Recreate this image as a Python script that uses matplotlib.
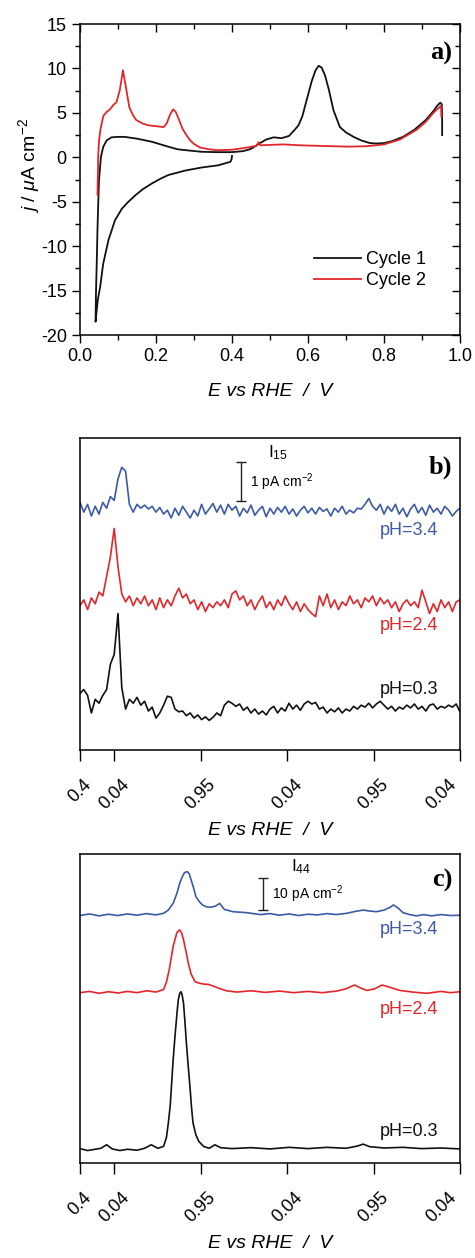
import numpy as np
import matplotlib
matplotlib.use("Agg")
import matplotlib.pyplot as plt
from matplotlib.ticker import MultipleLocator, FormatStrFormatter

plt.rcParams["font.family"] = ["Liberation Sans", "DejaVu Sans"]
plt.rcParams["mathtext.fontset"] = "custom"
plt.rcParams["mathtext.rm"] = "Liberation Sans"
plt.rcParams["mathtext.it"] = "Liberation Sans:italic"
plt.rcParams["axes.linewidth"] = 1.1
plt.rcParams["axes.unicode_minus"] = False

BLACK = "#111111"
RED = "#e3262b"
BLUE = "#3c5aa6"

# ---- a) cyclic voltammetry, potential (V) and current density (uA cm-2) ----
cyc1_E = [0.400, 0.399, 0.396, 0.364, 0.32, 0.276, 0.232, 0.21, 0.189, 0.165, 0.145,
          0.125, 0.11, 0.092, 0.075, 0.061, 0.053, 0.047, 0.044, 0.041,
          0.041, 0.042, 0.044, 0.046, 0.048, 0.050, 0.055, 0.061, 0.070, 0.083,
          0.10, 0.117, 0.15, 0.189, 0.232, 0.257, 0.29, 0.32, 0.36, 0.40, 0.43,
          0.45, 0.47, 0.49, 0.51, 0.53, 0.55, 0.565, 0.575, 0.585, 0.60, 0.61, 0.62,
          0.628, 0.636, 0.645, 0.655, 0.667, 0.684, 0.70, 0.72, 0.74, 0.763, 0.78,
          0.80, 0.82, 0.85, 0.88, 0.91, 0.93, 0.94, 0.948, 0.952, 0.953, 0.953]
cyc1_j = [0.15, -0.2, -0.5, -0.9, -1.15, -1.5, -2.0, -2.45, -2.95, -3.6, -4.3,
          -5.1, -5.8, -7.1, -9.3, -12.0, -14.6, -16.0, -17.2, -18.5,
          -18.5, -15.4, -12.0, -8.2, -5.2, -2.6, 0.0, 1.15, 1.9, 2.25,
          2.3, 2.3, 2.1, 1.75, 1.2, 0.9, 0.75, 0.62, 0.58, 0.58, 0.7,
          0.95, 1.5, 2.0, 2.25, 2.15, 2.4, 3.1, 3.6, 4.6, 7.0, 8.6, 9.8,
          10.3, 10.1, 9.2, 7.6, 5.3, 3.4, 2.8, 2.3, 1.9, 1.6, 1.55,
          1.6, 1.8, 2.3, 3.1, 4.2, 5.2, 5.8, 6.15, 6.0, 4.2, 2.5]

cyc2_E = [0.046, 0.047, 0.048, 0.050, 0.053, 0.058, 0.062, 0.070, 0.079, 0.088, 0.096,
          0.105, 0.113, 0.122, 0.130, 0.140, 0.148, 0.165, 0.18, 0.20, 0.22, 0.228,
          0.237, 0.245, 0.252, 0.258, 0.27, 0.28, 0.29, 0.30, 0.316, 0.34, 0.36,
          0.40, 0.44, 0.465, 0.47, 0.475, 0.50, 0.535, 0.58, 0.62, 0.66, 0.71,
          0.755, 0.80, 0.842, 0.886, 0.91, 0.93, 0.945, 0.95, 0.951]
cyc2_j = [-4.2, -2.0, 0.2, 1.8, 2.9, 4.0, 4.7, 5.1, 5.4, 5.9, 6.2,
          7.6, 9.8, 7.6, 5.6, 4.7, 4.2, 3.8, 3.6, 3.5, 3.4, 3.8,
          4.8, 5.4, 5.1, 4.5, 3.2, 2.5, 1.9, 1.5, 1.1, 0.9, 0.8,
          0.85, 1.1, 1.3, 1.7, 1.35, 1.4, 1.45, 1.35, 1.3, 1.25, 1.2,
          1.25, 1.45, 2.0, 3.1, 4.0, 5.0, 5.6, 5.8, 4.6]

# ---- shared x axis of b) and c): potential swept 0.4 -> 0.04 -> 0.95 -> 0.04 -> 0.95 -> 0.04 ----
sweep_ticks = [0.0, 0.36, 1.27, 2.18, 3.09, 4.0]
sweep_labels = ["0.4", "0.04", "0.95", "0.04", "0.95", "0.04"]

# ---- b) m/z 15 ion current (pA cm-2, traces stacked) ----
ms15_x = np.linspace(0.0, 4.0, 101)
ms15_ph34 = [6.35, 6.10, 6.30, 6.00, 6.25, 6.05, 6.35, 6.20, 6.50, 6.40,
             6.95, 7.25, 7.15, 6.30, 6.10, 6.30, 6.20, 6.28, 6.18, 6.25,
             6.10, 6.22, 6.05, 6.15, 5.95, 6.20, 6.02, 6.25, 6.10, 5.95,
             6.15, 6.00, 6.30, 6.05, 6.18, 6.32, 6.10, 6.28, 6.05, 6.30,
             6.15, 6.25, 6.00, 6.20, 6.08, 6.28, 6.02, 6.15, 6.25, 5.98,
             6.20, 6.05, 6.22, 6.10, 6.25, 6.05, 6.18, 6.00, 6.15, 6.25,
             6.08, 6.20, 6.05, 6.22, 6.12, 6.18, 6.00, 6.20, 6.10, 6.25,
             6.05, 6.15, 6.08, 6.20, 6.18, 6.30, 6.45, 6.25, 6.15, 6.30,
             6.05, 6.25, 6.12, 6.30, 6.05, 6.20, 5.98, 6.18, 6.30, 6.08,
             6.22, 6.02, 6.28, 6.10, 6.20, 6.05, 6.25, 6.15, 6.00, 6.12,
             6.20]
ms15_ph24 = [3.70, 3.85, 3.60, 3.90, 3.75, 4.05, 3.95, 4.45, 4.95, 5.68,
             4.70, 4.00, 3.80, 3.95, 3.70, 3.90, 3.75, 3.95, 3.70, 3.85,
             3.60, 3.90, 3.65, 3.85, 3.70, 3.95, 4.15, 3.90, 4.00, 3.75,
             3.85, 3.60, 3.80, 3.55, 3.75, 3.65, 3.80, 3.70, 3.85, 3.65,
             4.00, 4.08, 3.85, 3.95, 3.70, 3.85, 3.60, 3.80, 3.95, 3.65,
             3.80, 3.60, 3.85, 3.70, 3.95, 3.75, 3.60, 3.80, 3.55, 3.75,
             3.60, 3.50, 3.42, 3.95, 3.70, 4.00, 3.65, 3.85, 3.60, 3.80,
             3.70, 3.95, 3.75, 3.85, 3.65, 3.90, 3.80, 3.95, 3.70, 3.90,
             3.75, 3.85, 3.65, 3.80, 3.55, 3.75, 3.85, 3.70, 3.80, 3.65,
             4.10, 3.80, 3.50, 3.75, 3.55, 3.85, 3.65, 3.80, 3.55, 3.80,
             3.85]
ms15_ph03 = [1.45, 1.55, 1.40, 0.95, 1.30, 1.20, 1.40, 1.55, 2.20, 2.45,
             3.50, 1.60, 1.05, 1.30, 1.20, 1.35, 1.15, 1.25, 1.00, 1.10,
             0.82, 0.95, 1.15, 1.38, 1.35, 1.05, 0.98, 1.00, 0.88, 0.95,
             0.82, 0.90, 0.78, 0.85, 0.76, 0.84, 0.95, 0.88, 1.15, 1.25,
             1.20, 1.12, 1.18, 1.02, 1.10, 0.95, 1.05, 0.92, 1.00, 0.90,
             1.05, 1.12, 0.95, 1.08, 1.00, 1.20, 1.05, 1.15, 1.02, 1.18,
             1.25, 1.18, 1.22, 1.05, 1.10, 0.95, 1.05, 0.98, 1.08, 0.95,
             1.05, 1.00, 1.12, 1.05, 1.15, 1.10, 1.20, 1.08, 1.18, 1.25,
             1.15, 1.05, 1.12, 1.00, 1.10, 1.05, 1.15, 1.08, 1.18, 1.05,
             1.12, 1.00, 1.15, 1.18, 1.05, 1.12, 1.08, 1.15, 1.10, 1.18,
             0.98]

# ---- c) m/z 44 ion current (pA cm-2, traces stacked) ----
ms44_ph34_x = [0.0, 0.1, 0.2, 0.3, 0.4, 0.5, 0.6, 0.7, 0.8, 0.88, 0.93, 0.98, 1.02,
               1.05, 1.08, 1.10, 1.13, 1.15, 1.17, 1.20, 1.22, 1.26, 1.29, 1.33, 1.38,
               1.43, 1.47, 1.52, 1.61, 1.75, 1.9, 2.0, 2.1, 2.2, 2.3, 2.4, 2.5, 2.6,
               2.7, 2.81, 2.9, 2.98, 3.05, 3.12, 3.2, 3.26, 3.30, 3.35, 3.40, 3.47,
               3.54, 3.62, 3.7, 3.8, 3.9, 4.0]
ms44_ph34 = [77.3, 77.8, 77.2, 77.7, 77.3, 77.8, 77.4, 77.9, 77.5, 78.0, 79.0, 81.1, 84.2,
             87.4, 89.6, 90.7, 91.0, 90.3, 88.4, 85.5, 83.2, 81.5, 80.6, 80.0, 79.9,
             80.3, 81.1, 79.2, 78.5, 78.2, 77.6, 77.9, 77.4, 77.8, 77.3, 77.7, 77.5, 77.9,
             77.6, 78.0, 78.6, 79.0, 78.7, 78.5, 79.0, 79.8, 80.6, 79.6, 78.2, 77.6,
             77.2, 77.6, 77.2, 77.6, 77.3, 77.4]

ms44_ph24_x = [0.0, 0.1, 0.2, 0.3, 0.4, 0.5, 0.6, 0.7, 0.8, 0.88, 0.91, 0.94, 0.98,
               1.02, 1.05, 1.07, 1.09, 1.12, 1.14, 1.17, 1.21, 1.25, 1.30, 1.35, 1.40,
               1.47, 1.54, 1.65, 1.8, 1.95, 2.1, 2.25, 2.4, 2.55, 2.7, 2.8, 2.89, 2.96,
               3.02, 3.10, 3.18, 3.26, 3.37, 3.5, 3.65, 3.8, 3.9, 4.0]
ms44_ph24 = [53.2, 53.6, 53.0, 53.5, 53.1, 53.6, 53.2, 53.8, 53.4, 54.2, 56.5, 60.5, 67.6,
             72.0, 72.8, 71.8, 69.7, 65.5, 62.4, 59.0, 56.7, 56.2, 55.9, 55.8, 55.3,
             54.5, 53.8, 53.4, 53.8, 53.3, 53.7, 53.2, 53.6, 53.2, 53.7, 54.4, 55.6, 54.6,
             53.9, 54.4, 55.6, 54.9, 53.9, 53.4, 53.0, 53.6, 53.2, 53.5]

ms44_ph03_x = [0.0, 0.08, 0.16, 0.22, 0.28, 0.34, 0.42, 0.5, 0.6, 0.68, 0.75, 0.82,
               0.88, 0.91, 0.93, 0.95, 0.965, 0.98, 1.00, 1.02, 1.035, 1.05, 1.063,
               1.075, 1.09, 1.105, 1.12, 1.14, 1.16, 1.175, 1.19, 1.22, 1.25, 1.30,
               1.36, 1.42, 1.48, 1.6, 1.8, 2.0, 2.2, 2.4, 2.6, 2.8, 2.92, 2.98, 3.05,
               3.2, 3.4, 3.6, 3.8, 4.0]
ms44_ph03 = [4.5, 3.9, 4.3, 4.6, 5.7, 4.4, 3.9, 4.3, 4.0, 4.6, 5.7, 4.6,
             5.2, 8.0, 12.5, 18.0, 25.0, 32.0, 39.6, 46.5, 51.0, 53.0, 53.5,
             52.5, 49.9, 44.0, 37.5, 30.0, 22.9, 17.0, 12.5, 8.8, 6.8, 5.2,
             4.6, 5.7, 4.8, 4.5, 4.8, 4.4, 4.9, 4.5, 4.9, 4.6, 5.3, 5.9, 5.1,
             4.7, 4.9, 4.5, 4.7, 4.4]

fig = plt.figure(figsize=(4.75, 12.58), dpi=100)
ax_a = fig.add_axes([0.1684, 0.7337, 0.80, 0.2472])
ax_b = fig.add_axes([0.1684, 0.4038, 0.80, 0.2480])
ax_c = fig.add_axes([0.1684, 0.0755, 0.80, 0.2456])

xlabel = "E vs RHE  /  V"

# a) CV
ax_a.plot(cyc1_E, cyc1_j, color=BLACK, lw=1.3, label="Cycle 1")
ax_a.plot(cyc2_E, cyc2_j, color=RED, lw=1.3, label="Cycle 2")
ax_a.set_xlim(0.0, 1.0)
ax_a.set_ylim(-20, 15)
ax_a.xaxis.set_major_locator(MultipleLocator(0.2))
ax_a.xaxis.set_minor_locator(MultipleLocator(0.1))
ax_a.yaxis.set_major_locator(MultipleLocator(5))
ax_a.yaxis.set_minor_locator(MultipleLocator(2.5))
ax_a.xaxis.set_major_formatter(FormatStrFormatter("%.1f"))
ax_a.tick_params(axis="both", which="both", direction="out", labelsize=13, width=1.0)
ax_a.tick_params(which="major", length=6)
ax_a.tick_params(which="minor", length=3.5)
ax_a.tick_params(top=True, right=True, which="both")
for tick in ax_a.xaxis.get_major_ticks() + ax_a.xaxis.get_minor_ticks():
    tick.tick2line.set_marker(matplotlib.lines.TICKDOWN)
for tick in ax_a.yaxis.get_major_ticks() + ax_a.yaxis.get_minor_ticks():
    tick.tick2line.set_marker(matplotlib.lines.TICKLEFT)
ax_a.set_xlabel(xlabel, fontsize=14, style="italic", labelpad=13)
ax_a.set_ylabel(r"$j$ / $\mu$A cm$^{-2}$", fontsize=14)
ax_a.yaxis.set_label_coords(-0.1, 0.545)
ax_a.legend(loc="lower right", bbox_to_anchor=(0.93, 0.125), frameon=False,
            fontsize=13, handlelength=2.6, handletextpad=0.3, labelspacing=0.2,
            borderaxespad=0)
ax_a.text(0.98, 0.905, "a)", transform=ax_a.transAxes, ha="right", va="center",
          fontsize=19, fontweight="bold", family="Liberation Serif")

# b) m/z 15
ax_b.plot(ms15_x, ms15_ph34, color=BLUE, lw=1.2)
ax_b.plot(ms15_x, ms15_ph24, color=RED, lw=1.2)
ax_b.plot(ms15_x, ms15_ph03, color=BLACK, lw=1.2)
ax_b.set_ylim(0, 8.0)
ax_b.errorbar([1.695], [6.88], yerr=0.5, color="#222222", lw=1.0, capsize=3.5,
              capthick=1.0)
ax_b.text(1.79, 6.87, r"1 pA cm$^{-2}$", fontsize=10, ha="left", va="center")
ax_b.text(1.98, 7.62, r"I$_{15}$", fontsize=12.5, ha="left", va="center")
ax_b.text(3.77, 5.64, "pH=3.4", color=BLUE, fontsize=13, ha="right", va="center")
ax_b.text(3.77, 3.20, "pH=2.4", color=RED, fontsize=13, ha="right", va="center")
ax_b.text(3.77, 1.54, "pH=0.3", color=BLACK, fontsize=13, ha="right", va="center")
ax_b.text(0.98, 0.905, "b)", transform=ax_b.transAxes, ha="right", va="center",
          fontsize=19, fontweight="bold", family="Liberation Serif")

# c) m/z 44
ax_c.plot(ms44_ph34_x, ms44_ph34, color=BLUE, lw=1.2)
ax_c.plot(ms44_ph24_x, ms44_ph24, color=RED, lw=1.2)
ax_c.plot(ms44_ph03_x, ms44_ph03, color=BLACK, lw=1.2)
ax_c.set_ylim(0, 96.5)
ax_c.errorbar([1.926], [84.1], yerr=5.0, color="#222222", lw=1.0, capsize=3.5,
              capthick=1.0)
ax_c.text(2.02, 84.1, r"10 pA cm$^{-2}$", fontsize=10, ha="left", va="center")
ax_c.text(2.22, 92.5, r"I$_{44}$", fontsize=12.5, ha="left", va="center")
ax_c.text(3.77, 72.8, "pH=3.4", color=BLUE, fontsize=13, ha="right", va="center")
ax_c.text(3.77, 47.8, "pH=2.4", color=RED, fontsize=13, ha="right", va="center")
ax_c.text(3.77, 9.7, "pH=0.3", color=BLACK, fontsize=13, ha="right", va="center")
ax_c.text(0.98, 0.915, "c)", transform=ax_c.transAxes, ha="right", va="center",
          fontsize=19, fontweight="bold", family="Liberation Serif")

for ax in (ax_b, ax_c):
    ax.set_xlim(0.0, 4.0)
    ax.set_xticks(sweep_ticks)
    ax.set_xticklabels(sweep_labels, rotation=45, ha="center", va="top")
    # last label sits on the right spine; keep it inside the figure
    ax.get_xticklabels()[-1].set_horizontalalignment("right")
    ax.set_yticks([])
    ax.tick_params(axis="x", direction="out", length=8, width=1.0, labelsize=13,
                   pad=11)
    ax.set_xlabel(xlabel, fontsize=14, style="italic", labelpad=6)

fig.savefig("out.png", dpi=100)
